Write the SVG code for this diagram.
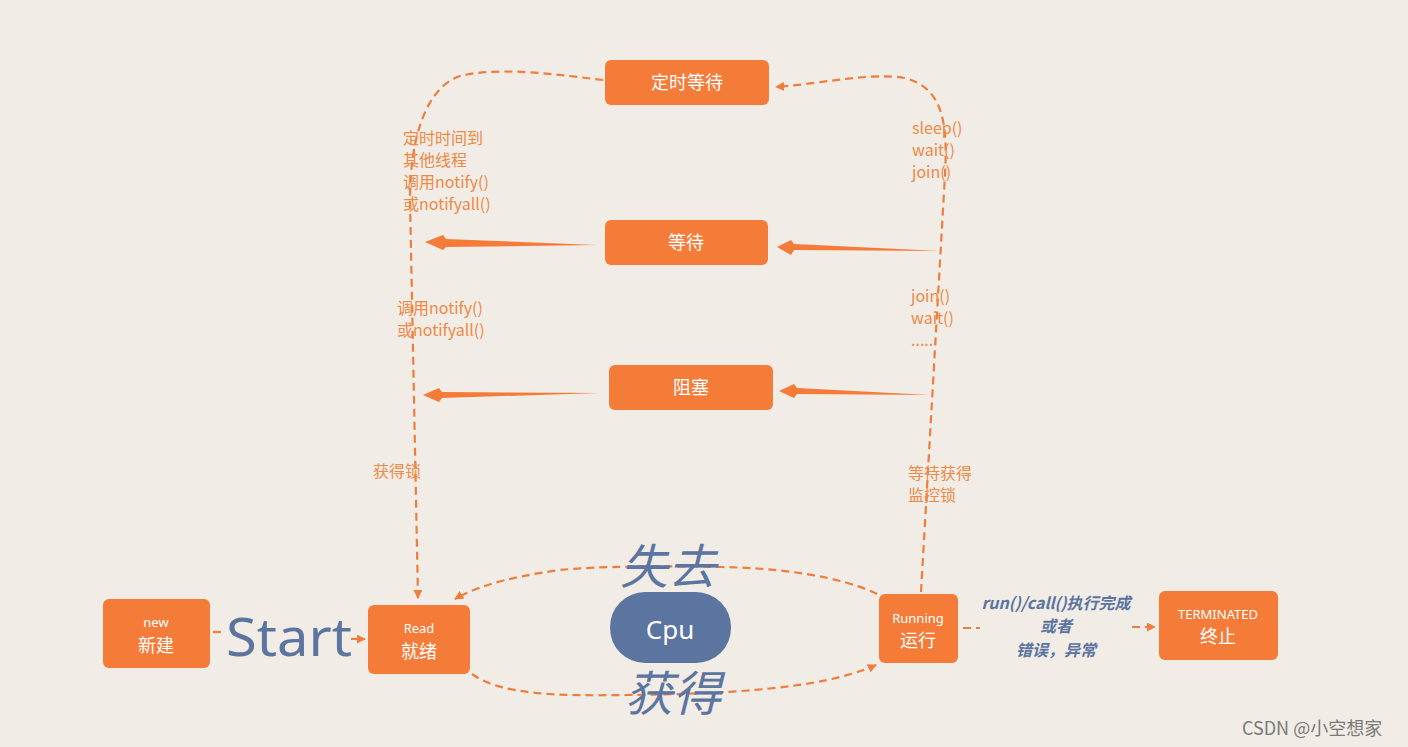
<svg xmlns="http://www.w3.org/2000/svg" width="1408" height="747" viewBox="0 0 1408 747">
<style>
.box{fill:#f57b38}
.bt{fill:#fff;font-family:"Noto Sans CJK SC","Noto Sans",sans-serif;font-size:18px;text-anchor:middle}
.sm{fill:#fff;font-family:"Noto Sans","Noto Sans CJK SC",sans-serif;font-size:13px;text-anchor:middle}
.lbl{fill:#ee8a45;font-family:"Noto Sans CJK SC","Noto Sans",sans-serif;font-size:16px}
.dash{fill:none;stroke:#ef7d3d;stroke-width:2.2;stroke-dasharray:8,5}
.wedge{fill:#f57b38}
.blue{fill:#5b74a0;font-family:"Noto Sans CJK SC",sans-serif}
.run{fill:#5b74a0;font-family:"Noto Sans CJK SC","Noto Sans",sans-serif;font-size:16px;font-weight:bold;font-style:italic;text-anchor:middle}
</style>
<defs>
<marker id="ah" viewBox="0 0 10 10" refX="9" refY="5" markerWidth="9" markerHeight="9" markerUnits="userSpaceOnUse" orient="auto">
<path d="M0,0 L10,5 L0,10 z" fill="#ef7d3d"/>
</marker>
</defs>
<rect width="1408" height="747" fill="#f1ece6"/>
<g id="connectors">
<path class="dash" d="M603,80 C560,75 500,66 460,76 C425,88 410,140 410,200 L418,598" marker-end="url(#ah)"/>
<path class="dash" d="M921,592 L945,175 C948,120 942,88 905,78 C870,72 820,84 776,87" marker-end="url(#ah)"/>
<polygon class="wedge" points="597,245 446,239 443,235 425,242 443,250 446,247"/>
<polygon class="wedge" points="940,251 794,244 791,240 777,247 791,255 794,250"/>
<polygon class="wedge" points="600,393 442,392 439,388 423,395 439,402 442,398"/>
<polygon class="wedge" points="930,395 797,388 794,384 779,391 794,398 797,394"/>
<path class="dash" d="M213,632 L222,632"/>
<path class="dash" d="M351,639 L365,639" marker-end="url(#ah)"/>
<path class="dash" d="M877,594 C840,576 780,568 720,567 C660,566 600,566 560,570 C500,578 470,590 455,599" marker-end="url(#ah)"/>
<path class="dash" d="M472,674 C500,695 560,696 625,695 C720,694 820,690 876,665" marker-end="url(#ah)"/>
<path class="dash" d="M963,628 L980,628"/>
<path class="dash" d="M1132,627 L1155,627" marker-end="url(#ah)"/>
</g>
<g id="timed-waiting"><rect class="box" x="605" y="60" width="164" height="45" rx="6"/><text class="bt" x="687" y="89">定时等待</text></g>
<g id="waiting"><rect class="box" x="605" y="220" width="163" height="45" rx="6"/><text class="bt" x="686" y="249">等待</text></g>
<g id="blocked"><rect class="box" x="609" y="365" width="164" height="45" rx="6"/><text class="bt" x="691" y="394">阻塞</text></g>
<g id="new"><rect class="box" x="103" y="599" width="107" height="69" rx="6"/><text class="sm" x="156" y="627">new</text><text class="bt" x="156" y="652">新建</text></g>
<g id="ready"><rect class="box" x="368" y="605" width="102" height="69" rx="6"/><text class="sm" x="419" y="633">Read</text><text class="bt" x="419" y="658">就绪</text></g>
<g id="cpu"><rect x="610" y="592" width="121" height="71" rx="35" fill="#5b74a0"/><text x="670" y="639" fill="#fff" font-family="'Noto Sans',sans-serif" font-size="26" text-anchor="middle">Cpu</text></g>
<g id="running"><rect class="box" x="879" y="594" width="79" height="69" rx="6"/><text class="sm" x="918" y="623">Running</text><text class="bt" x="918" y="647">运行</text></g>
<g id="terminated"><rect class="box" x="1159" y="591" width="119" height="69" rx="6"/><text class="sm" x="1218" y="619">TERMINATED</text><text class="bt" x="1218" y="643">终止</text></g>
<g id="labels">
<text class="lbl" x="403" y="144">定时时间到</text>
<text class="lbl" x="403" y="166">其他线程</text>
<text class="lbl" x="403" y="188">调用notify()</text>
<text class="lbl" x="403" y="210">或notifyall()</text>
<text class="lbl" x="912" y="134">sleep()</text>
<text class="lbl" x="912" y="156">wait()</text>
<text class="lbl" x="912" y="178">join()</text>
<text class="lbl" x="397" y="314">调用notify()</text>
<text class="lbl" x="397" y="336">或notifyall()</text>
<text class="lbl" x="911" y="302">join()</text>
<text class="lbl" x="911" y="324">wait()</text>
<text class="lbl" x="911" y="346">.....</text>
<text class="lbl" x="373" y="477">获得锁</text>
<text class="lbl" x="908" y="479">等待获得</text>
<text class="lbl" x="908" y="501">监控锁</text>
<text x="226" y="656" fill="#5b74a0" font-family="'Noto Sans',sans-serif" font-size="52" textLength="126" lengthAdjust="spacingAndGlyphs">Start</text>
<text class="blue" x="620" y="584" font-size="48" font-style="italic">失去</text>
<text class="blue" x="625" y="711" font-size="48" font-style="italic">获得</text>
<text class="run" x="1056" y="609">run()/call()执行完成</text>
<text class="run" x="1056" y="632">或者</text>
<text class="run" x="1056" y="656">错误，异常</text>
<text x="1242" y="735" fill="#7a7a7a" font-family="'Noto Sans CJK SC',sans-serif" font-size="18">CSDN @小空想家</text>
</g>
</svg>
